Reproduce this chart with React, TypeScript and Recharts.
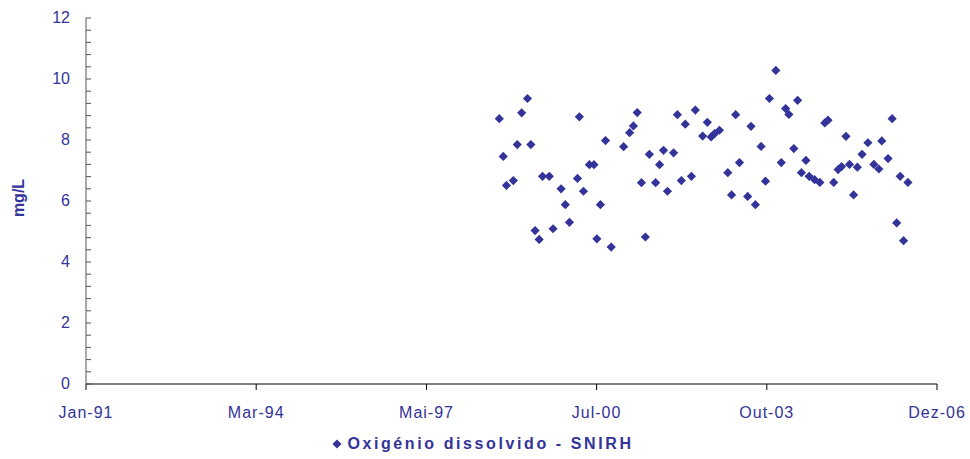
import React from 'react';
import { ScatterChart, Scatter, XAxis, YAxis, Legend, Label } from 'recharts';

// Sampling dates (Oxigénio dissolvido - SNIRH)
const sampleDates = [
  '1998-09-30', '1998-10-27', '1998-11-18', '1999-01-04', '1999-01-31', '1999-03-02', '1999-04-11', '1999-05-04',
  '1999-06-02', '1999-06-30', '1999-07-23', '1999-09-07', '1999-10-03', '1999-11-27', '1999-12-26', '2000-01-23',
  '2000-03-18', '2000-03-31', '2000-04-28', '2000-06-08', '2000-07-09', '2000-07-29', '2000-08-22', '2000-09-26',
  '2000-11-04', '2001-01-28', '2001-03-10', '2001-04-05', '2001-05-01', '2001-05-30', '2001-06-26', '2001-07-23',
  '2001-09-04', '2001-10-01', '2001-10-28', '2001-11-24', '2002-01-05', '2002-01-31', '2002-02-27', '2002-03-26',
  '2002-05-07', '2002-06-03', '2002-07-23', '2002-08-24', '2002-09-19', '2002-10-13', '2002-11-15', '2003-01-11',
  '2003-02-06', '2003-03-06', '2003-04-01', '2003-05-27', '2003-06-19', '2003-07-19', '2003-08-27', '2003-09-26',
  '2003-10-23', '2003-12-06', '2004-01-12', '2004-02-11', '2004-03-04', '2004-04-07', '2004-05-03', '2004-05-29',
  '2004-06-29', '2004-07-21', '2004-08-27', '2004-10-02', '2004-11-05', '2004-11-27', '2005-01-05', '2005-02-04',
  '2005-02-28', '2005-03-30', '2005-04-23', '2005-05-21', '2005-06-16', '2005-07-18', '2005-08-27', '2005-10-07',
  '2005-11-10', '2005-11-30', '2006-01-12', '2006-02-09', '2006-03-12', '2006-04-05', '2006-04-28', '2006-05-28',
];

// Dissolved oxygen (mg/L)
const oxygenMgL = [
  8.70, 7.46, 6.51, 6.67, 7.85, 8.89, 9.36, 7.85,
  5.03, 4.74, 6.81, 6.81, 5.09, 6.40, 5.88, 5.30,
  6.74, 8.76, 6.32, 7.19, 7.19, 4.76, 5.88, 7.98,
  4.49, 7.78, 8.24, 8.46, 8.90, 6.60, 4.82, 7.53,
  6.60, 7.19, 7.66, 6.32, 7.58, 8.83, 6.67, 8.52,
  6.81, 8.98, 8.13, 8.58, 8.10, 8.21, 8.32, 6.93,
  6.20, 8.83, 7.26, 6.15, 8.45, 5.88, 7.79, 6.65,
  9.36, 10.28, 7.26, 9.03, 8.84, 7.72, 9.30, 6.93,
  7.33, 6.81, 6.70, 6.61, 8.56, 8.65, 6.61, 7.03,
  7.13, 8.12, 7.20, 6.20, 7.11, 7.53, 7.91, 7.20,
  7.05, 7.97, 7.39, 8.70, 5.28, 6.81, 4.70, 6.61,
];

const xTickDates = ['1991-01-01', '1994-03-11', '1997-05-20', '2000-07-27', '2003-10-05', '2006-12-13'];
const xTickLabels = ['Jan-91', 'Mar-94', 'Mai-97', 'Jul-00', 'Out-03', 'Dez-06'];
const yMajorTicks = [0, 2, 4, 6, 8, 10, 12];
const yMinorTicks = [
  0, 0.4, 0.8, 1.2, 1.6, 2, 2.4, 2.8, 3.2, 3.6, 4, 4.4, 4.8, 5.2, 5.6, 6, 6.4, 6.8, 7.2, 7.6,
  8, 8.4, 8.8, 9.2, 9.6, 10, 10.4, 10.8, 11.2, 11.6, 12,
];

const seriesName = 'Oxigénio dissolvido - SNIRH';
const yAxisTitle = 'mg/L';

const ORIGIN = Date.UTC(1991, 0, 1);
const toDay = (s: string) => {
  const [y, m, d] = s.split('-').map(Number);
  return (Date.UTC(y, m - 1, d) - ORIGIN) / 86400000;
};

const xTicks = xTickDates.map(toDay);
const data = sampleDates.map((d, i) => ({ day: toDay(d), value: oxygenMgL[i] }));

const COLOR = '#333399';
const FONT = '"Liberation Sans", Arial, Helvetica, sans-serif';

const Diamond = (props: any) => {
  const { cx, cy } = props;
  const r = 4.6;
  return <path d={`M${cx},${cy - r}L${cx + r},${cy}L${cx},${cy + r}L${cx - r},${cy}Z`} fill={COLOR} />;
};

const YTick = (props: any) => {
  const { x, y, payload } = props;
  const v = payload.value;
  const major = yMajorTicks.some((t) => Math.abs(t - v) < 1e-6);
  return (
    <g>
      <line x1={x + 16} x2={x + 21} y1={y} y2={y} stroke="#555" strokeWidth={1} />
      {major && (
        <text x={x} y={y} dy={5} textAnchor="end" fill={COLOR} fontSize={16} fontFamily={FONT}>
          {v}
        </text>
      )}
    </g>
  );
};

const LegendContent = () => (
  <div
    style={{
      display: 'flex',
      justifyContent: 'center',
      alignItems: 'center',
      height: 30,
      paddingLeft: 29,
      fontFamily: FONT,
      fontWeight: 'bold',
      fontSize: 16,
      color: COLOR,
      letterSpacing: '2.6px',
    }}
  >
    <svg width={10} height={10} style={{ marginRight: 5 }}>
      <path d="M5,0.5L9.5,5L5,9.5L0.5,5Z" fill={COLOR} />
    </svg>
    <span>{seriesName}</span>
  </div>
);

export default function App() {
  return (
    <div style={{ position: 'absolute', left: 0, top: 0, background: '#fff' }}>
      <ScatterChart width={970} height={459} margin={{ top: 18, right: 33, bottom: 0, left: 0 }}>
        <XAxis
          type="number"
          dataKey="day"
          domain={[xTicks[0], xTicks[xTicks.length - 1]]}
          ticks={xTicks}
          interval={0}
          height={45}
          tickSize={6}
          tickMargin={17}
          axisLine={{ stroke: '#000', strokeWidth: 1.2 }}
          tickLine={{ stroke: '#000' }}
          tick={{ fill: COLOR, fontSize: 16, fontFamily: FONT, letterSpacing: 1 }}
          tickFormatter={(v: number) => xTickLabels[xTicks.indexOf(v)] ?? ''}
        />
        <YAxis
          type="number"
          dataKey="value"
          domain={[0, 12]}
          ticks={yMinorTicks}
          interval={0}
          width={86}
          tickSize={0}
          tickMargin={16}
          axisLine={{ stroke: '#555' }}
          tickLine={false}
          tick={<YTick />}
        >
          <Label
            content={(p: any) => {
              const vb = p.viewBox || { x: 0, y: 18, width: 86, height: 366 };
              const cx = vb.x + 18;
              const cy = vb.y + vb.height / 2 - 3;
              return (
                <text
                  x={cx}
                  y={cy}
                  transform={`rotate(-90 ${cx} ${cy})`}
                  textAnchor="middle"
                  dominantBaseline="central"
                  fill={COLOR}
                  fontSize={16}
                  fontWeight="bold"
                  fontFamily={FONT}
                >
                  {yAxisTitle}
                </text>
              );
            }}
          />
        </YAxis>
        <Legend verticalAlign="bottom" height={30} content={<LegendContent />} />
        <Scatter name={seriesName} data={data} fill={COLOR} shape={<Diamond />} isAnimationActive={false} />
      </ScatterChart>
    </div>
  );
}
